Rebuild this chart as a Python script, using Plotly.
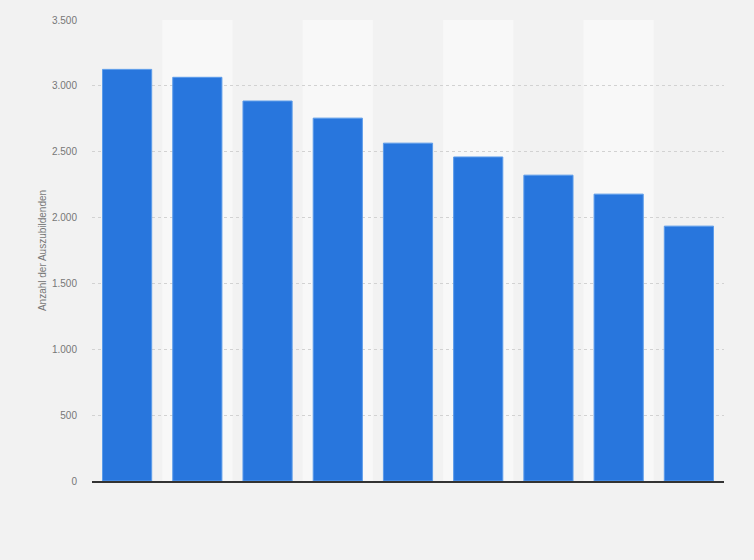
import plotly.graph_objects as go

categories = ["1", "2", "3", "4", "5", "6", "7", "8", "9"]
values = [3125, 3065, 2885, 2755, 2565, 2460, 2322, 2178, 1935]
y_ticks = [0, 500, 1000, 1500, 2000, 2500, 3000, 3500]
y_title = "Anzahl der Auszubildenden"

fig = go.Figure()
fig.add_trace(go.Bar(
    x=categories, y=values,
    marker=dict(color="#2876dd", line=dict(color="#5c9cea", width=1)),
    width=0.7,
))

shapes = []
for i in range(len(categories)):
    if i % 2 == 1:
        shapes.append(dict(type="rect", xref="x", yref="paper", x0=i - 0.5, x1=i + 0.5,
                           y0=0, y1=1, fillcolor="#f8f8f8", line=dict(width=0), layer="below"))

fig.update_layout(
    width=754, height=560,
    paper_bgcolor="#f2f2f2", plot_bgcolor="#f2f2f2",
    margin=dict(l=92, r=30, t=20, b=79),
    separators=",.",
    showlegend=False,
    shapes=shapes,
    font=dict(family="Liberation Sans, Arial, sans-serif", color="#777777", size=10),
    xaxis=dict(showticklabels=False, showgrid=False, zeroline=False,
               showline=True, linecolor="#333333", linewidth=2,
               range=[-0.5, len(categories) - 0.5]),
    yaxis=dict(range=[0, 3500], tickvals=y_ticks, tickformat=",d",
               showgrid=True, gridcolor="#d2d2d2", griddash="dot", gridwidth=1,
               zeroline=False, ticklabelstandoff=14,
               tickfont=dict(size=10, color="#777777"),
               title=dict(text=y_title, font=dict(size=10, color="#777777"), standoff=3)),
)

fig.write_html("out.html", config={"displayModeBar": False},
               post_script="document.body.style.margin='0';document.body.style.background='#f2f2f2';")
